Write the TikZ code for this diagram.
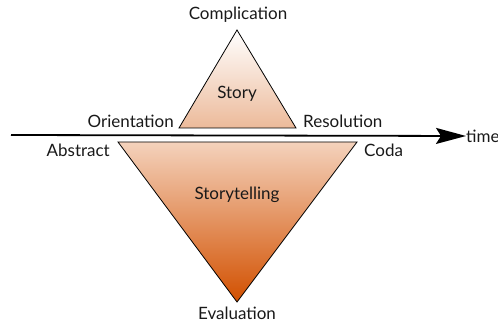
\documentclass[tikz,border=0pt]{standalone}
\usepackage{fontspec}
\setmainfont{Lato}
\usetikzlibrary{arrows.meta}
\definecolor{lightor}{RGB}{244,210,188}
\definecolor{darkor}{RGB}{210,80,0}
\definecolor{storyor}{RGB}{236,186,154}
\tikzset{lbl/.style={font=\fontsize{17}{19}\selectfont, inner sep=0pt, text=black!90}}
\begin{document}
\begin{tikzpicture}[x=1pt,y=-1pt]
\useasboundingbox (0,0) rectangle (498,323);
% top triangle
\coordinate (tA) at (237,30);
\coordinate (tL) at (179,128);
\coordinate (tR) at (296,128);
\shade[top color=white, middle color=white, bottom color=storyor] (tA) -- (tL) -- (tR) -- cycle;
\draw[line width=0.8pt] (tA) -- (tL) -- (tR) -- cycle;
% bottom triangle
\coordinate (bL) at (118,142);
\coordinate (bR) at (357,142);
\coordinate (bA) at (237,302);
\shade[top color=lightor, bottom color=darkor] (bL) -- (bR) -- (bA) -- cycle;
\draw[line width=0.8pt] (bL) -- (bR) -- (bA) -- cycle;
% axis
\coordinate (ax0) at (11,135);
\node[lbl, anchor=west] (time) at (466,136) {time};
\draw[line width=1.8pt, -{Stealth[length=30pt,width=16pt,inset=5pt]}] (ax0) -- (time.west);
% labels
\node[lbl] (compl) at (238,15) {Complication};
\node[lbl] (story) at (237,94) {Story};
\node[lbl, anchor=east] (orient) at (174,121) {Orientation};
\node[lbl, anchor=west] (resol) at (303,121) {Resolution};
\node[lbl, anchor=east] (abstr) at (110,150) {Abstract};
\node[lbl, anchor=west] (coda) at (364,150) {Coda};
\node[lbl] (stell) at (237,195) {Storytelling};
\node[lbl] (eval) at (237,313) {Evaluation};
\end{tikzpicture}
\end{document}
